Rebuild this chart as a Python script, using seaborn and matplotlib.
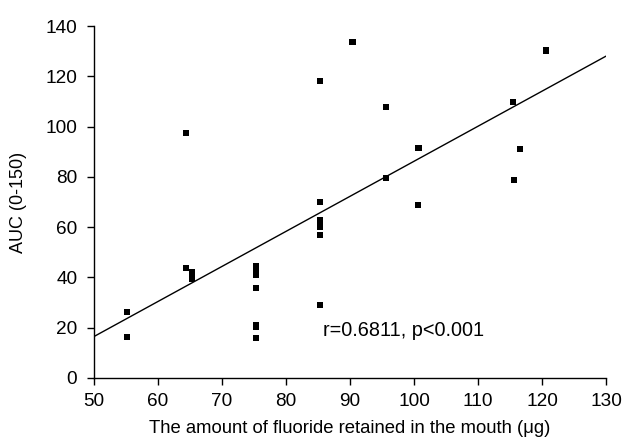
import matplotlib
matplotlib.use("Agg")
import matplotlib.pyplot as plt
import seaborn as sns
import numpy as np
import pandas as pd

fluoride = [55.2, 55.2, 64.4, 64.4, 65.3, 65.3,
            75.3, 75.3, 75.3, 75.3, 75.3, 75.3, 75.3,
            85.3, 85.3, 85.3, 85.3, 85.3, 85.3, 85.3,
            90.4, 95.6, 95.6, 100.7, 100.6,
            120.6, 115.5, 116.5, 115.6]
auc = [26.3, 16.3, 97.5, 43.7, 42.0, 39.6,
       44.6, 43.0, 41.0, 35.9, 21.1, 20.4, 15.8,
       118.1, 70.1, 62.8, 61.3, 60.2, 56.9, 29.0,
       133.5, 107.7, 79.7, 91.4, 68.8,
       130.3, 109.7, 91.0, 78.8]
fit_intercept_at_50 = 16.5
fit_slope = 1.394
annotation = "r=0.6811, p<0.001"

df = pd.DataFrame({"x": fluoride, "y": auc})

sns.set_style("ticks", {"text.color": "black", "axes.labelcolor": "black",
                        "xtick.color": "black", "ytick.color": "black",
                        "axes.edgecolor": "black"})
plt.rcParams['font.family'] = ['Liberation Sans', 'DejaVu Sans']

fig = plt.figure(figsize=(6.28, 4.38), dpi=100)
ax = fig.add_axes([0.1497, 0.137, 0.8153, 0.8036])
ax.set_xlim(50, 130)
ax.set_ylim(0, 140)

sns.scatterplot(data=df, x="x", y="y", marker="s", s=20, color="black",
                edgecolor="none", ax=ax, zorder=3)
xs = np.array([50, 130])
ax.plot(xs, fit_intercept_at_50 + fit_slope * (xs - 50), color="black", lw=1.0)

ax.text(85.8, 18.7, annotation, fontsize=14.3, va="center", ha="left", color="black")

ax.set_xticks(range(50, 131, 10))
ax.set_yticks(range(0, 141, 20))
ax.tick_params(axis="both", labelsize=13.7, length=5, width=1, direction="out",
               color="black", labelcolor="black")
ax.tick_params(axis="y", pad=7)
ax.tick_params(axis="x", pad=6)
for s in ["top", "right"]:
    ax.spines[s].set_visible(False)
for s in ["left", "bottom"]:
    ax.spines[s].set_linewidth(1.0)
    ax.spines[s].set_color("black")
ax.set_xlabel("The amount of fluoride retained in the mouth (μg)", fontsize=13.3,
              labelpad=7, color="black")
ax.set_ylabel("AUC (0-150)", fontsize=13, labelpad=13, color="black")

fig.savefig("out.png", dpi=100)
